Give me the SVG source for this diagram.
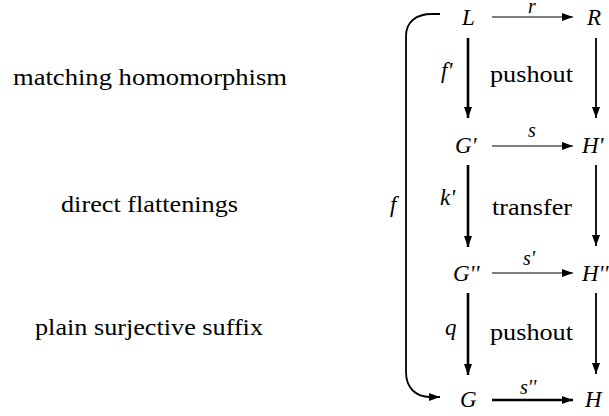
<svg xmlns="http://www.w3.org/2000/svg" width="609" height="416" viewBox="0 0 609 416">
<defs>
<marker id="ah" markerUnits="userSpaceOnUse" markerWidth="12" markerHeight="8" refX="11" refY="4" orient="auto">
<path d="M0,0 L11,4 L0,8 z" fill="#000"/>
</marker>
</defs>
<g id="labels-left" font-family="Liberation Serif" font-size="23">
<text x="13" y="85" textLength="274" lengthAdjust="spacingAndGlyphs">matching homomorphism</text>
<text x="61" y="212" textLength="177" lengthAdjust="spacingAndGlyphs">direct flattenings</text>
<text x="35" y="335" textLength="228" lengthAdjust="spacingAndGlyphs">plain surjective suffix</text>
</g>
<g font-family="Liberation Serif" font-style="italic" font-size="23">
<g id="node-L"><text x="462" y="25">L</text></g>
<g id="node-R"><text x="587" y="25">R</text></g>
<g id="node-G1"><text x="455" y="153">G'</text></g>
<g id="node-H1"><text x="582" y="153">H'</text></g>
<g id="node-G2"><text x="453" y="281">G''</text></g>
<g id="node-H2"><text x="582" y="281">H''</text></g>
<g id="node-G"><text x="460" y="407">G</text></g>
<g id="node-H"><text x="585" y="407">H</text></g>
</g>
<g id="cell-labels" font-family="Liberation Serif" font-size="23">
<text x="490" y="82" textLength="83" lengthAdjust="spacingAndGlyphs">pushout</text>
<text x="492" y="215" textLength="80" lengthAdjust="spacingAndGlyphs">transfer</text>
<text x="490" y="340" textLength="83" lengthAdjust="spacingAndGlyphs">pushout</text>
</g>
<g id="connectors" fill="none" stroke="#000">
<line stroke-width="1.1" x1="492" y1="17" x2="573" y2="17" marker-end="url(#ah)"/>
<line stroke-width="1.1" x1="492" y1="146" x2="573" y2="146" marker-end="url(#ah)"/>
<line stroke-width="1.1" x1="492" y1="273" x2="573" y2="273" marker-end="url(#ah)"/>
<line stroke-width="2.6" x1="492" y1="400" x2="573" y2="400" marker-end="url(#ah)"/>
<line stroke-width="2.6" x1="468" y1="38" x2="468" y2="118" marker-end="url(#ah)"/>
<line stroke-width="2.6" x1="468" y1="165" x2="468" y2="247" marker-end="url(#ah)"/>
<line stroke-width="2.6" x1="468" y1="293" x2="468" y2="375" marker-end="url(#ah)"/>
<line stroke-width="1.8" x1="596" y1="38" x2="596" y2="118" marker-end="url(#ah)"/>
<line stroke-width="1.8" x1="596" y1="165" x2="596" y2="246" marker-end="url(#ah)"/>
<line stroke-width="1.8" x1="596" y1="293" x2="596" y2="374" marker-end="url(#ah)"/>
<path stroke-width="1.8" d="M440 14 L432 14 C416 14 406 22 406 36 L406 372 C406 388 416 397 430 397 L440 397" marker-end="url(#ah)"/>
<g font-family="Liberation Serif" font-style="italic" font-size="20" fill="#000" stroke="none">
<text x="528" y="13">r</text>
<text x="528" y="137">s</text>
<text x="523" y="265">s'</text>
<text x="520" y="394">s''</text>
</g>
<g font-family="Liberation Serif" font-style="italic" font-size="23" fill="#000" stroke="none">
<text x="441" y="78">f'</text>
<text x="440" y="205">k'</text>
<text x="445" y="335">q</text>
<text x="390" y="212">f</text>
</g>
</g>
</svg>
